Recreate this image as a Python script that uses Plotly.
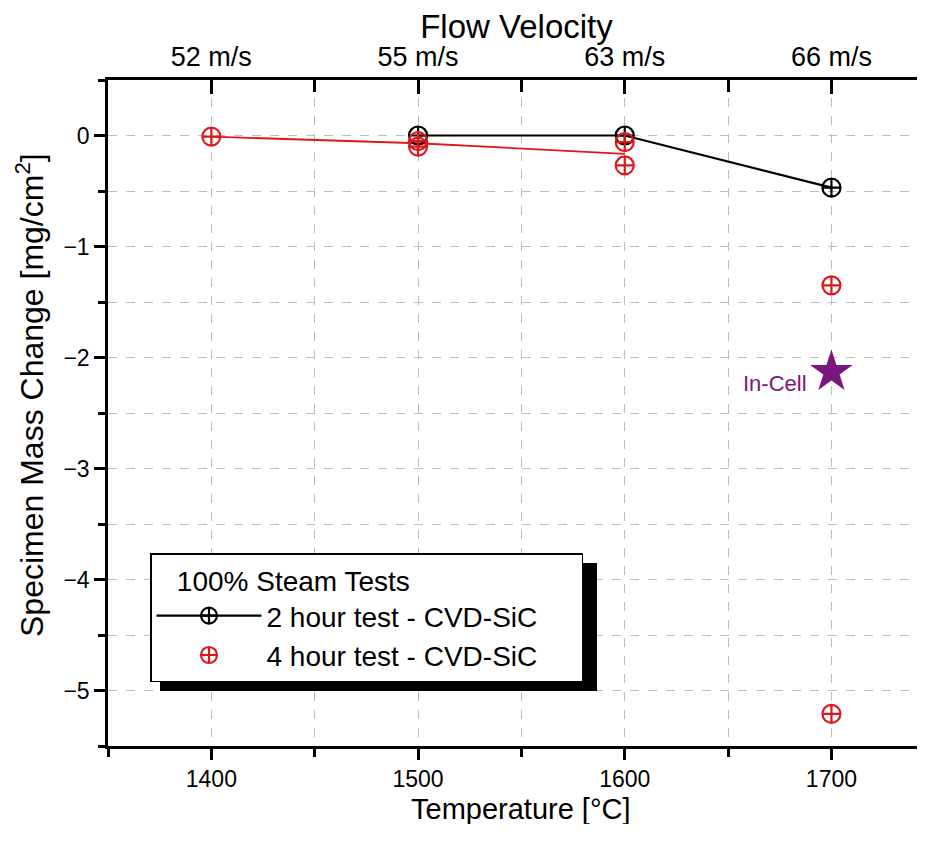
import plotly.graph_objects as go

# Data
temps_2h = [1500, 1600, 1700]
mass_2h = [0.0, 0.0, -0.47]

temps_4h = [1400, 1500, 1500, 1600, 1600, 1700, 1700]
mass_4h = [-0.01, -0.05, -0.10, -0.06, -0.27, -1.35, -5.21]

temps_4h_line = [1400, 1500, 1600]
mass_4h_line = [-0.01, -0.07, -0.165]

incell_temp = [1700]
incell_mass = [-2.13]

top_tickvals = [1400, 1500, 1600, 1700]
top_ticktext = ["52 m/s", "55 m/s", "63 m/s", "66 m/s"]

FONT = "Liberation Sans, Arial, sans-serif"
RED = "#e0161b"
PURPLE = "#7a177e"
NB = "\u00a0"

fig = go.Figure()

fig.add_trace(go.Scatter(
    x=temps_4h_line, y=mass_4h_line, mode="lines",
    line=dict(color=RED, width=1.8), showlegend=False, hoverinfo="skip"))

fig.add_trace(go.Scatter(
    x=temps_2h, y=mass_2h, mode="lines+markers",
    name="2 hour test - CVD-SiC" + NB * 5,
    line=dict(color="black", width=2.2),
    marker=dict(symbol="circle-cross-open", size=18, color="black",
                line=dict(width=2.2, color="black"))))

fig.add_trace(go.Scatter(
    x=temps_4h, y=mass_4h, mode="markers",
    name="4 hour test - CVD-SiC" + NB * 5,
    marker=dict(symbol="circle-cross-open", size=18, color=RED,
                line=dict(width=2.2, color=RED))))

fig.add_trace(go.Scatter(
    x=incell_temp, y=incell_mass, mode="markers",
    marker=dict(symbol="star", size=32, color=PURPLE),
    showlegend=False))

fig.add_annotation(x=incell_temp[0], y=incell_mass[0], text="In-Cell",
                   showarrow=False, xanchor="right", yanchor="middle",
                   xshift=-22, yshift=-12,
                   font=dict(family=FONT, size=22, color=PURPLE))

# invisible trace for top axis
fig.add_trace(go.Scatter(x=[1400], y=[0], xaxis="x2", mode="markers",
                         marker=dict(opacity=0), showlegend=False, hoverinfo="skip"))

grid = dict(showgrid=True, gridcolor="#bdbdbd", griddash="dash", gridwidth=1)

# page body has an 8px margin; size/margins compensate for it
L, T, B = 100, 72, 78
W, H = 917, 816
plot_w = W - L
plot_h = H - T - B
X_MAX = 1350 + plot_w / 2.067  # keeps 100 degC = 206.7 px

# axis titles placed as annotations (screen positions from the reference)
fig.add_annotation(xref="paper", yref="paper", x=(521 - 108) / plot_w,
                   y=-(809 - 746) / plot_h, text="Temperature [°C]",
                   showarrow=False, xanchor="center", yanchor="middle",
                   font=dict(family=FONT, size=29, color="black"))
fig.add_annotation(xref="paper", yref="paper", x=-(108 - 30) / plot_w,
                   y=(746 - 395) / plot_h,
                   text="Specimen Mass Change [mg/cm<sup>2</sup>]",
                   textangle=-90, showarrow=False, xanchor="center", yanchor="middle",
                   font=dict(family=FONT, size=32, color="black"))

fig.update_layout(
    width=W, height=H, autosize=False,
    margin=dict(l=L, r=0, t=T, b=B, pad=0),
    paper_bgcolor="white", plot_bgcolor="white",
    font=dict(family=FONT, size=23, color="black"),
    xaxis=dict(
        range=[1350, X_MAX], tickmode="linear", tick0=1400, dtick=100,
        ticks="outside", ticklen=11, tickwidth=2.5, tickcolor="black",
        showline=True, linecolor="black", linewidth=2.5, automargin=False,
        tickfont=dict(size=23), zeroline=False, mirror=False,
        minor=dict(dtick=50, tick0=1350, ticks="outside", ticklen=8, tickwidth=2.5,
                   tickcolor="black", **grid),
        **grid),
    xaxis2=dict(
        overlaying="x", side="top", range=[1350, X_MAX],
        tickmode="array", tickvals=top_tickvals, ticktext=top_ticktext,
        ticks="inside", ticklen=14, tickwidth=2.5, tickcolor="black",
        showline=True, linecolor="black", linewidth=2.5, showgrid=False,
        tickfont=dict(size=27), zeroline=False, automargin=False, mirror=False,
        minor=dict(tickvals=[1350, 1450, 1550, 1650], ticks="inside", ticklen=12,
                   tickwidth=2.5, tickcolor="black", showgrid=False),
        title=dict(text="Flow Velocity", font=dict(size=33), standoff=12)),
    yaxis=dict(
        range=[-5.5, 0.5], tickmode="linear", tick0=0, dtick=1,
        ticks="outside", ticklen=11, tickwidth=2.5, tickcolor="black",
        showline=True, linecolor="black", linewidth=2.5, zeroline=False,
        tickfont=dict(size=23), automargin=False, mirror=False,
        minor=dict(dtick=0.5, ticks="outside", ticklen=7, tickwidth=2.5,
                   tickcolor="black", **grid),
        **grid),
    legend=dict(
        x=(142 - L) / plot_w, y=(738 - 545) / plot_h, xanchor="left", yanchor="top",
        bgcolor="white", bordercolor="black", borderwidth=1.5,
        font=dict(size=28), itemwidth=105,
        title=dict(text=NB * 3 + "100% Steam Tests", font=dict(size=28)),
        tracegroupgap=0),
    showlegend=True,
)

# legend shadow (offset box behind legend)
fig.add_shape(type="rect", xref="paper", yref="paper",
              x0=(152 - L) / plot_w, x1=(589 - L) / plot_w,
              y0=(738 - 683) / plot_h, y1=(738 - 555) / plot_h,
              fillcolor="black", line=dict(width=0), layer="above")

fig.write_html("out.html")
